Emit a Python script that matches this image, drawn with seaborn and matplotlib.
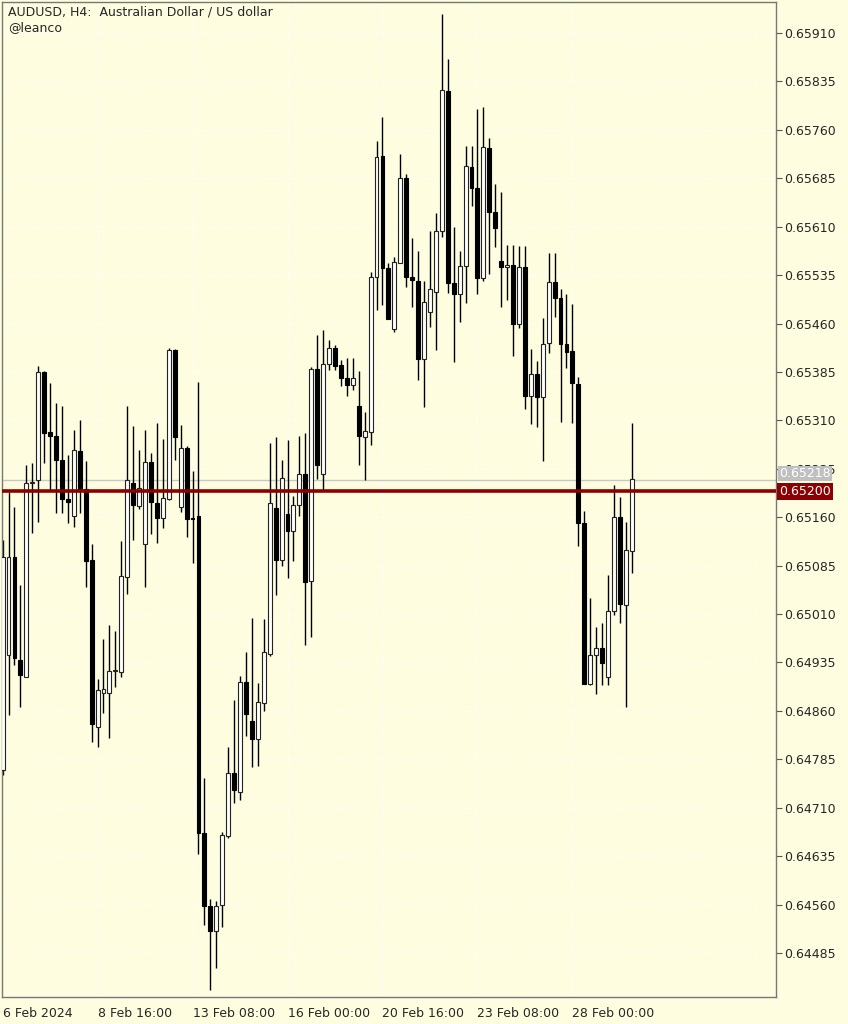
import numpy as np
import pandas as pd
import matplotlib
matplotlib.use("Agg")
import matplotlib.pyplot as plt
import seaborn as sns

# AUDUSD H4 candles, prices in points (1e-5)
open_pts = [64768, 64946, 65098, 64939, 64912, 65213, 65217, 65385, 65292, 65286,
            65248, 65188, 65162, 65262, 65204, 65094, 64835, 64888, 64888, 64922,
            64920, 65067, 65213, 65177, 65118, 65245, 65182, 65159, 65188, 65419,
            65176, 65267, 65159, 65162, 64671, 64558, 64519, 64559, 64666, 64764,
            64734, 64905, 64844, 64816, 64872, 64948, 65174, 65094, 65165, 65138,
            65179, 65227, 65061, 65389, 65227, 65397, 65422, 65396, 65375, 65365,
            65332, 65284, 65292, 65532, 65719, 65546, 65451, 65554, 65685, 65532,
            65526, 65405, 65478, 65509, 65603, 65820, 65523, 65506, 65549, 65702,
            65670, 65530, 65732, 65633, 65557, 65547, 65550, 65459, 65547, 65348,
            65382, 65346, 65430, 65524, 65499, 65428, 65417, 65366, 65151, 64902,
            64946, 64957, 64912, 65015, 65160, 65024, 65107]
high_pts = [65125, 65199, 65176, 65055, 65241, 65244, 65394, 65387, 65368, 65337,
            65332, 65256, 65295, 65310, 65247, 65118, 64909, 64971, 64993, 64984,
            65123, 65332, 65301, 65264, 65295, 65259, 65306, 65281, 65422, 65421,
            65303, 65270, 65231, 65369, 64756, 64568, 64565, 64672, 64804, 64877,
            64914, 64951, 65004, 64903, 65002, 65275, 65284, 65248, 65279, 65193,
            65286, 65290, 65393, 65442, 65450, 65434, 65427, 65403, 65406, 65406,
            65386, 65323, 65540, 65743, 65780, 65554, 65563, 65722, 65691, 65592,
            65572, 65526, 65603, 65631, 65939, 65870, 65609, 65572, 65735, 65735,
            65792, 65795, 65747, 65676, 65664, 65581, 65581, 65580, 65580, 65420,
            65402, 65468, 65569, 65569, 65513, 65506, 65490, 65377, 65170, 65035,
            64990, 64996, 65070, 65210, 65191, 65152, 65306]
low_pts = [64761, 64854, 64931, 64866, 64912, 65135, 65152, 65244, 65202, 65166,
           65166, 65151, 65145, 65166, 65052, 64812, 64804, 64857, 64818, 64897,
           64912, 65041, 65125, 65173, 65052, 65134, 65120, 65143, 65186, 65248,
           65168, 65129, 65089, 64638, 64528, 64427, 64462, 64525, 64663, 64717,
           64722, 64821, 64773, 64774, 64860, 64945, 65039, 65084, 65066, 65092,
           65162, 64962, 64974, 65219, 65200, 65388, 65388, 65363, 65348, 65357,
           65241, 65217, 65272, 65481, 65489, 65467, 65447, 65554, 65516, 65485,
           65372, 65331, 65454, 65419, 65594, 65507, 65400, 65462, 65492, 65642,
           65506, 65526, 65537, 65578, 65485, 65496, 65410, 65453, 65327, 65304,
           65300, 65247, 65414, 65470, 65307, 65391, 65306, 65115, 64902, 64900,
           64886, 64900, 64900, 65008, 64996, 64866, 65073]
close_pts = [65098, 65098, 64942, 64915, 65213, 65214, 65385, 65290, 65286, 65248,
             65188, 65183, 65264, 65202, 65092, 64840, 64892, 64894, 64922, 64923,
             65069, 65217, 65179, 65205, 65245, 65183, 65159, 65190, 65419, 65284,
             65267, 65157, 65157, 64671, 64558, 64519, 64558, 64668, 64764, 64737,
             64905, 64855, 64816, 64874, 64951, 65182, 65094, 65221, 65138, 65179,
             65227, 65060, 65389, 65241, 65397, 65422, 65394, 65375, 65365, 65375,
             65286, 65293, 65532, 65718, 65546, 65467, 65555, 65685, 65532, 65527,
             65405, 65493, 65513, 65603, 65822, 65523, 65506, 65549, 65704, 65670,
             65530, 65733, 65633, 65608, 65547, 65550, 65459, 65547, 65348, 65382,
             65346, 65428, 65524, 65499, 65428, 65416, 65368, 65151, 64902, 64946,
             64957, 64934, 65015, 65160, 65025, 65109, 65219]

tick_idx = [0, 16, 32, 48, 64, 80, 96]
tick_labels = ["6 Feb 2024", "8 Feb 16:00", "13 Feb 08:00", "16 Feb 00:00",
               "20 Feb 16:00", "23 Feb 08:00", "28 Feb 00:00"]
price_ticks = [0.64485, 0.64560, 0.64635, 0.64710, 0.64785, 0.64860, 0.64935,
               0.65010, 0.65085, 0.65160, 0.65235, 0.65310, 0.65385, 0.65460,
               0.65535, 0.65610, 0.65685, 0.65760, 0.65835, 0.65910]
bid = 0.65200
ask = 0.65218

df = pd.DataFrame({"open": open_pts, "high": high_pts, "low": low_pts,
                   "close": close_pts}) / 1e5
df["i"] = np.arange(len(df))
up = df["close"] >= df["open"]

bg = "#FEFDE0"
sns.set_style("white", {"axes.facecolor": bg, "figure.facecolor": bg})
plt.rcParams["font.family"] = ["DejaVu Sans"]

fig = plt.figure(figsize=(8.48, 10.24), dpi=100)
ax = fig.add_axes([2 / 848, 27 / 1024, 774 / 848, 995 / 1024])
ax.set_facecolor(bg)

# grid
for t in tick_idx[1:]:
    ax.axvline(t, color="white", lw=0.7, ls=(0, (3, 3)), zorder=0)
for p in price_ticks:
    ax.axhline(p, color="white", lw=0.7, ls=(0, (3, 3)), zorder=0)

# wicks
ax.vlines(df["i"], df["low"], df["high"], color="black", lw=1, zorder=2)
# bodies
w = 0.66
body = (df["close"] - df["open"]).abs().clip(lower=0.000005)
bottom = df[["open", "close"]].min(axis=1)
ax.bar(df["i"][up], body[up], w, bottom=bottom[up], color="white",
       edgecolor="#222222", lw=0.8, zorder=3)
ax.bar(df["i"][~up], body[~up], w, bottom=bottom[~up], color="black",
       edgecolor="black", lw=0.8, zorder=3)

# bid / ask lines
ax.axhline(ask, color="#C8C8C8", lw=1, zorder=1)
ax.axhline(bid, color="#8B0000", lw=2.6, zorder=4)

ax.set_xlim(-0.1, 130.3)
ax.set_ylim(0.644168, 0.659580)

ax.yaxis.tick_right()
ax.set_yticks(price_ticks)
ax.set_yticklabels([f"{p:.5f}" for p in price_ticks], fontsize=9)
ax.set_xticks(tick_idx)
ax.set_xticklabels(tick_labels, fontsize=9, ha="left")
ax.tick_params(axis="both", direction="out", length=4, width=0.8,
               color="#555555", pad=2)
ax.tick_params(axis="x", pad=3)
for s in ax.spines.values():
    s.set_color("#777777")
    s.set_linewidth(1)

ax.text(1.004, ask + 0.00010, f"{ask:.5f}", transform=ax.get_yaxis_transform(),
        fontsize=9, color="white", va="center", ha="left",
        bbox=dict(boxstyle="square,pad=0.1", fc="#C0C0C0", ec="none"), zorder=5)
ax.text(1.004, bid, f"{bid:.5f}", transform=ax.get_yaxis_transform(),
        fontsize=9, color="white", va="center", ha="left",
        bbox=dict(boxstyle="square,pad=0.15", fc="#8B0000", ec="none"), zorder=6)

ax.text(0.008, 0.996, "AUDUSD, H4:  Australian Dollar / US dollar\n@leanco",
        transform=ax.transAxes, fontsize=9, va="top", ha="left",
        linespacing=1.25)

fig.savefig("out.png", dpi=100, facecolor=bg)
